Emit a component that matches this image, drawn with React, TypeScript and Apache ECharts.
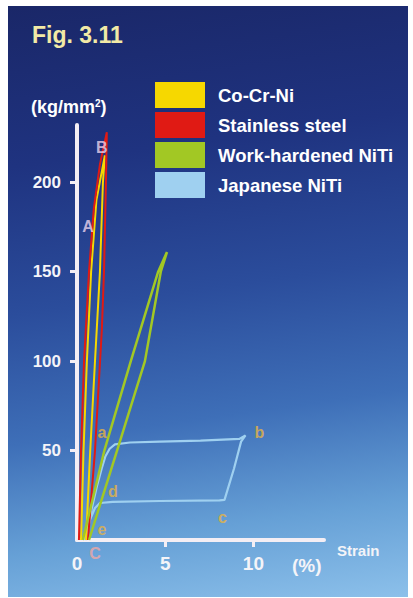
import { useEffect, useRef } from "react";
import * as echarts from "echarts";

const seriesNames = ["Co-Cr-Ni", "Stainless steel", "Work-hardened NiTi", "Japanese NiTi"];
const seriesColors = ["#f6d800", "#e01a14", "#a2c824", "#9fd0f0"];

// strain (%) / stress (kg/mm2), loading then unloading
const coCrNiStrain = [0.23, 0.37, 0.56, 0.8, 1.1, 1.58, 1.47, 1.3, 1.02, 0.75, 0.51];
const coCrNiStress = [0, 50, 100, 150, 190, 215, 200, 150, 100, 50, 0];
const stainlessStrain = [0.11, 0.23, 0.4, 0.68, 0.95, 1.3, 1.69, 1.64, 1.53, 1.41, 1.02, 0.62];
const stainlessStress = [0, 50, 100, 150, 185, 210, 228, 200, 150, 118, 50, 0];
const workNiTiStrain = [0.33, 1.55, 3.05, 4.6, 5.1, 4.75, 3.85, 2.27, 0.68];
const workNiTiStress = [0, 50, 100, 150, 161, 150, 100, 50, 0];
const japNiTiStrain = [0.42, 0.8, 1.13, 1.4, 1.6, 1.85, 2.15, 3.0, 4.7, 7.0, 9.2, 9.55, 9.3, 8.9, 8.36, 8.08, 4.7, 2.03, 1.3, 1.02, 0.73, 0.56, 0.5];
const japNiTiStress = [0, 16, 30, 40, 46.5, 51, 53.5, 54.5, 55, 55.5, 56.5, 58.5, 55, 40, 22.4, 22.2, 21.8, 21.3, 20.7, 17.9, 11.2, 3.9, 0];

const yTicks = [50, 100, 150, 200];
const xTicks = [5, 10];
const xLabels = [0, 5, 10];

const pointNames = ["A", "B", "C", "a", "b", "c", "d", "e"];
const pointStrain = [0.62, 1.41, 1.02, 1.41, 10.34, 8.25, 2.03, 1.41];
const pointStress = [175, 219.5, -7.5, 60, 60, 12.3, 26.9, 5.6];
const pointColors = ["#ecd4ec", "#ecd4ec", "#f2a8a4", "#e8b442", "#e8b442", "#e8b442", "#e8b442", "#e8b442"];

const FONT = "'Liberation Sans', Arial, sans-serif";

function pairs(xs: number[], ys: number[]) {
  return xs.map((x, i) => [x, ys[i]]);
}

export default function App() {
  const ref = useRef<HTMLDivElement>(null);
  useEffect(() => {
    if (!ref.current) return;
    const chart = echarts.init(ref.current, null, { renderer: "svg" });
    const lineData = [
      pairs(coCrNiStrain, coCrNiStress),
      pairs(stainlessStrain, stainlessStress),
      pairs(workNiTiStrain, workNiTiStress),
      pairs(japNiTiStrain, japNiTiStress),
    ];
    const widths = [2, 2, 2.5, 2.2];
    chart.setOption({
      animation: false,
      backgroundColor: "transparent",
      grid: { left: 77, right: 89, top: 125, bottom: 58, containLabel: false },
      xAxis: {
        type: "value",
        min: 0,
        max: 14,
        axisLine: { show: true, lineStyle: { color: "#f4eef4", width: 4 } },
        axisTick: { show: true, customValues: xTicks, length: 7, lineStyle: { color: "#f4eef4", width: 3 } },
        axisLabel: {
          show: true,
          customValues: xLabels,
          margin: 14,
          color: "#f4f4f8",
          fontSize: 19,
          fontWeight: "bold",
          fontFamily: FONT,
        },
        splitLine: { show: false },
      },
      yAxis: {
        type: "value",
        min: 0,
        max: 232,
        axisLine: { show: true, lineStyle: { color: "#f4eef4", width: 4 } },
        axisTick: { show: true, customValues: yTicks, length: 7, lineStyle: { color: "#f4eef4", width: 3 } },
        axisLabel: {
          show: true,
          customValues: yTicks,
          margin: 16,
          color: "#f4f4f8",
          fontSize: 17,
          fontWeight: "bold",
          fontFamily: FONT,
        },
        splitLine: { show: false },
      },
      legend: {
        data: seriesNames,
        orient: "vertical",
        left: 150,
        top: 77,
        itemWidth: 50,
        itemHeight: 26,
        itemGap: 4,
        icon: "rect",
        selectedMode: false,
        textStyle: {
          color: "#ffffff",
          fontSize: 18.5,
          fontWeight: "bold",
          fontFamily: FONT,
          padding: [0, 0, 0, 8],
        },
      },
      graphic: [
        {
          type: "text",
          left: 32,
          top: 23,
          z: 100,
          style: { text: "Fig. 3.11", fill: "#f2eaa6", font: `bold 23px ${FONT}` },
        },
        {
          type: "text",
          left: 31,
          top: 98,
          z: 100,
          style: {
            text: "(kg/mm{s|2})",
            fill: "#ffffff",
            font: `bold 18px ${FONT}`,
            rich: { s: { fontSize: 10, fontWeight: "bold", fill: "#ffffff", verticalAlign: "top", padding: [0, 0, 8, 0] } },
          },
        },
        {
          type: "text",
          left: 337,
          top: 543,
          z: 100,
          style: { text: "Strain", fill: "#f4f4f8", font: `bold 15px ${FONT}` },
        },
        {
          type: "text",
          left: 292,
          top: 556,
          z: 100,
          style: { text: "(%)", fill: "#f4f4f8", font: `bold 19px ${FONT}` },
        },
      ],
      series: [
        ...seriesNames.map((name, i) => ({
          name,
          type: "line",
          data: lineData[i],
          showSymbol: false,
          symbol: "none",
          color: seriesColors[i],
          itemStyle: { color: seriesColors[i] },
          lineStyle: { color: seriesColors[i], width: widths[i] },
          z: i === 3 ? 2 : 3,
        })),
        {
          name: "labels",
          type: "scatter",
          symbolSize: 0,
          clip: false,
          silent: true,
          z: 10,
          data: pointNames.map((n, i) => ({
            name: n,
            value: [pointStrain[i], pointStress[i]],
            label: { color: pointColors[i] },
          })),
          label: {
            show: true,
            position: "inside",
            formatter: "{b}",
            fontSize: 16,
            fontWeight: "bold",
            fontFamily: FONT,
          },
        },
      ],
    });
    return () => chart.dispose();
  }, []);

  return (
    <div style={{ position: "absolute", left: 0, top: 0, width: 413, height: 598, background: "#ffffff" }}>
      <div
        style={{
          position: "absolute",
          left: 8,
          top: 6,
          width: 400,
          height: 591,
          background:
            "linear-gradient(172deg, #1a2768 0%, #1f3380 25%, #2b4d9c 48%, #3e6fb8 68%, #66a0d6 85%, #8cc0ea 100%)",
        }}
      />
      <div ref={ref} style={{ position: "absolute", left: 0, top: 0, width: 413, height: 598 }} />
    </div>
  );
}
